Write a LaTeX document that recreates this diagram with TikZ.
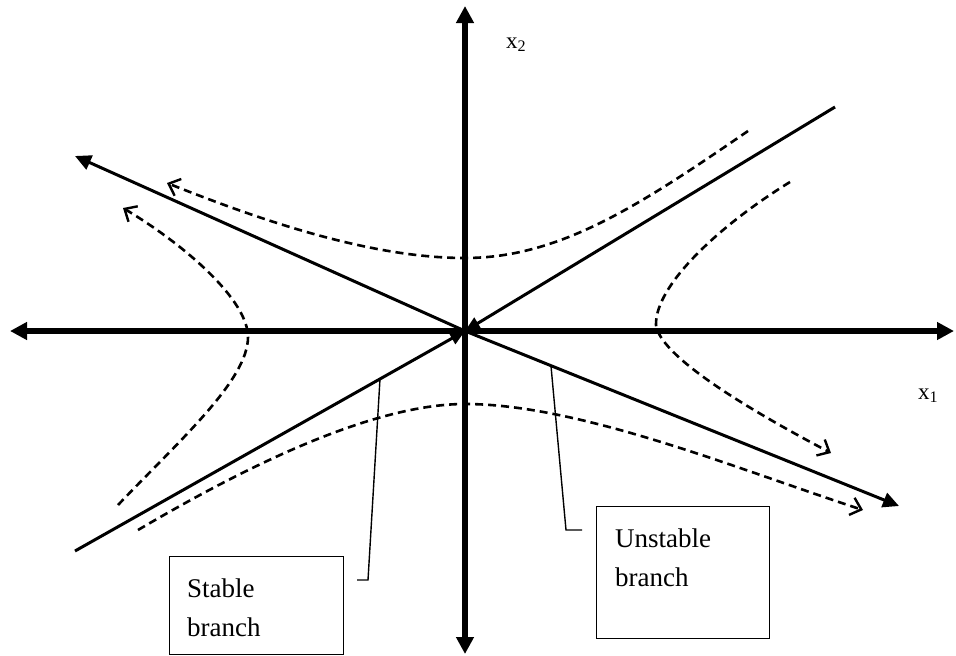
\documentclass[tikz,border=0pt]{standalone}
\usepackage{fontspec}
\setmainfont{Liberation Serif}
\usetikzlibrary{arrows.meta}
\begin{document}
\begin{tikzpicture}[x=1pt,y=-1pt,
  axis/.style={line width=6pt,{Triangle[length=17pt,width=17pt]}-{Triangle[length=17pt,width=17pt]}},
  branch/.style={line width=3pt},
  outtip/.style={-{Triangle[length=16pt,width=15pt]}},
  intip/.style={-{Triangle[length=15pt,width=13pt]}},
  traj/.style={line width=2.6pt,dash pattern=on 8pt off 5pt,-{Straight Barb[length=10pt,width=18pt,line width=2.4pt]}},
  leader/.style={line width=1.4pt},
  labelbox/.style={draw,line width=1.4pt,inner sep=0pt,anchor=north west},
  boxtext/.style={anchor=north west,inner sep=0pt,align=left,font=\fontsize{27}{38.5}\selectfont},
  axlabel/.style={anchor=base west,inner sep=0pt,font=\fontsize{23}{26}\selectfont}]
\useasboundingbox (0,0) rectangle (956,656);
\fill[white] (0,0) rectangle (956,656);
% key points
\coordinate (O) at (465,331);
\coordinate (L) at (10,331);
\coordinate (R) at (954,331);
\coordinate (T) at (465,6);
\coordinate (B) at (465,654);
\coordinate (UL) at (75,156);
\coordinate (UR) at (899,506);
\coordinate (SL) at (75,551);
\coordinate (SR) at (835,107);
% axes
\draw[axis] (L) -- (R);
\draw[axis] (T) -- (B);
% unstable branch
\draw[branch,outtip] (O) -- (UL);
\draw[branch,outtip] (O) -- (UR);
% stable branch
\draw[branch,intip] (SL) -- (O);
\draw[branch,intip] (SR) -- (O);
% trajectories
\draw[traj] (748,131) .. controls (640,205) and (560,258) .. (465,258)
  .. controls (370,258) and (260,220) .. (167,183);
\draw[traj] (138,530) .. controls (240,470) and (370,404) .. (465,404)
  .. controls (580,404) and (740,470) .. (863,510);
\draw[traj] (118,505) .. controls (180,440) and (248,380) .. (248,337)
  .. controls (248,300) and (185,245) .. (123,208);
\draw[traj] (790,182) .. controls (720,225) and (655,285) .. (656,325)
  .. controls (660,355) and (740,405) .. (831,453);
% axis labels
\node[axlabel] (x2) at (506,48) {x\textsubscript{2}};
\node[axlabel] (x1) at (918,399) {x\textsubscript{1}};
% label boxes
\node[labelbox,minimum width=174pt,minimum height=98pt] (sbox) at (169,556) {};
\node[boxtext] (stext) at (187,578.6) {Stable\\branch};
\node[labelbox,minimum width=173pt,minimum height=132pt] (ubox) at (596,506) {};
\node[boxtext] (utext) at (615,528.6) {Unstable\\branch};
% leaders
\coordinate (sa) at (380,379);
\coordinate (sb) at (368,580);
\coordinate (sc) at (357,580);
\draw[leader] (sa) -- (sb) -- (sc);
\coordinate (ua) at (551,366);
\coordinate (ub) at (566,530);
\coordinate (uc) at (582,530);
\draw[leader] (ua) -- (ub) -- (uc);
\end{tikzpicture}
\end{document}
